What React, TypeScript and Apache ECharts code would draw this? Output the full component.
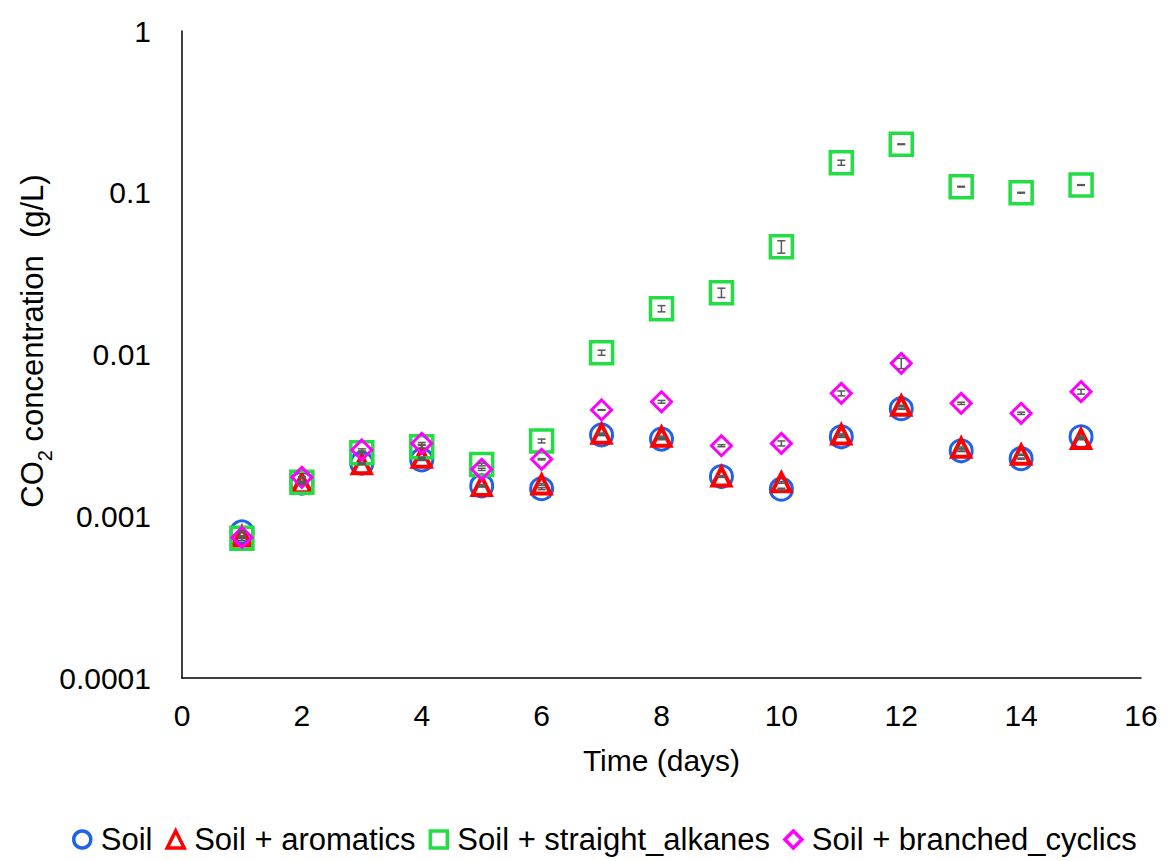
import React, { useEffect, useRef } from "react";
import * as echarts from "echarts";

const days = [1, 2, 3, 4, 5, 6, 7, 8, 9, 10, 11, 12, 13, 14, 15];
const soil = [0.0008, 0.0016, 0.00213, 0.00223, 0.00154, 0.00148, 0.00318, 0.003, 0.00176, 0.00147, 0.0031, 0.00462, 0.00254, 0.00227, 0.0031];
const soilErr = [0.00001, 0.00002, 0.00002, 0.00002, 0.00002, 0.00002, 0.00003, 0.00003, 0.00002, 0.00002, 0.00003, 0.00004, 0.00003, 0.00002, 0.00003];
const aromatics = [0.00075, 0.0016, 0.0021, 0.0023, 0.00154, 0.00157, 0.00324, 0.0031, 0.00176, 0.00162, 0.0032, 0.00482, 0.00265, 0.0024, 0.003];
const aromaticsErr = [0.00001, 0.00002, 0.00002, 0.00002, 0.00002, 0.00002, 0.00003, 0.00003, 0.00002, 0.00002, 0.00003, 0.00004, 0.00003, 0.00002, 0.00003];
const straight = [0.00073, 0.00162, 0.00247, 0.00269, 0.00209, 0.00292, 0.01026, 0.0192, 0.0241, 0.0464, 0.1534, 0.1995, 0.109, 0.1, 0.1116];
const straightErr = [0.00002, 0.00003, 0.00005, 0.00005, 0.00004, 0.00008, 0.00037, 0.00085, 0.0016, 0.0041, 0.0055, 0.001, 0.0006, 0.0006, 0.0006];
const branched = [0.00074, 0.00174, 0.00257, 0.00282, 0.00195, 0.00225, 0.00454, 0.0051, 0.00273, 0.00282, 0.00575, 0.00882, 0.00499, 0.00433, 0.00589];
const branchedErr = [0.00001, 0.00002, 0.00004, 0.00004, 0.00003, 0.00002, 0.00002, 0.0001, 0.00004, 0.0001, 0.0002, 0.00065, 0.00008, 0.00007, 0.0002];
const yTickLabels: Record<string, string> = { "1": "1", "0.1": "0.1", "0.01": "0.01", "0.001": "0.001", "0.0001": "0.0001" };
const seriesNames = ["Soil", "Soil + aromatics", "Soil + straight_alkanes", "Soil + branched_cyclics"];

const FONT = "Liberation Sans, Arial, sans-serif";

export default function App() {
  const ref = useRef<HTMLDivElement>(null);
  useEffect(() => {
    if (!ref.current) return;
    const chart = echarts.init(ref.current, null, { renderer: "svg" });

    const errSeries = (name: string, vals: number[], errs: number[]) => ({
      type: "custom",
      name: name + "_err",
      silent: true,
      z: 5,
      data: days.map((d, i) => [d, vals[i], vals[i] - errs[i], vals[i] + errs[i]]),
      renderItem: (params: any, api: any) => {
        const x = api.value(0);
        const lo = api.coord([x, api.value(2)]);
        const hi = api.coord([x, api.value(3)]);
        const hw = 4;
        const style = { stroke: "#595959", lineWidth: 1.5 };
        return {
          type: "group",
          children: [
            { type: "line", shape: { x1: lo[0], y1: lo[1], x2: hi[0], y2: hi[1] }, style },
            { type: "line", shape: { x1: lo[0] - hw, y1: lo[1], x2: lo[0] + hw, y2: lo[1] }, style },
            { type: "line", shape: { x1: hi[0] - hw, y1: hi[1], x2: hi[0] + hw, y2: hi[1] }, style },
          ],
        };
      },
    });

    const scatter = (name: string, vals: number[], symbol: string, size: number, color: string, bw: number) => ({
      type: "scatter",
      name,
      symbol,
      symbolSize: size,
      z: 3,
      data: days.map((d, i) => [d, vals[i]]),
      itemStyle: { color: "rgba(255,255,255,0)", borderColor: color, borderWidth: bw, opacity: 1 },
    });

    chart.setOption({
      animation: false,
      textStyle: { fontFamily: FONT },
      grid: { left: 182, right: 27, top: 31, bottom: 183, containLabel: false },
      graphic: [
        {
          type: "text",
          x: 30,
          y: 341,
          rotation: Math.PI / 2,
          style: {
            text: "{a|CO}{s|2}{a| concentration  (g/L)}",
            align: "center",
            verticalAlign: "middle",
            rich: {
              a: { fontSize: 31, fill: "#000", fontFamily: FONT, lineHeight: 36, verticalAlign: "bottom" },
              s: { fontSize: 20, fill: "#000", fontFamily: FONT, lineHeight: 36, verticalAlign: "bottom", padding: [0, 0, -7, 0] },
            },
          },
        },
      ],
      xAxis: {
        type: "value",
        min: 0,
        max: 16,
        interval: 2,
        name: "Time (days)",
        nameLocation: "middle",
        nameGap: 67,
        nameTextStyle: { fontSize: 30, color: "#000", fontFamily: FONT },
        axisLine: { lineStyle: { color: "#000", width: 1.5 } },
        axisTick: { show: false },
        splitLine: { show: false },
        axisLabel: { fontSize: 30, color: "#000", margin: 22, fontFamily: FONT },
      },
      yAxis: {
        type: "log",
        logBase: 10,
        min: 0.0001,
        max: 1,
        axisLine: { show: true, lineStyle: { color: "#000", width: 1.5 } },
        axisTick: { show: false },
        splitLine: { show: false },
        minorTick: { show: false },
        axisLabel: {
          fontSize: 30,
          color: "#000",
          margin: 31,
          fontFamily: FONT,
          formatter: (v: number) => {
            const key = String(Number(v.toPrecision(6)));
            return yTickLabels[key] ?? "";
          },
        },
      },
      legend: {
        top: 819,
        left: 67,
        itemWidth: 17,
        itemHeight: 17,
        itemGap: 13,
        textStyle: { fontSize: 31, color: "#000", fontFamily: FONT, padding: [0, 0, 0, 5] },
        data: seriesNames.map((n) => ({ name: n, itemStyle: { borderWidth: 3.5, opacity: 1 } })),
      },
      series: [
        scatter(seriesNames[0], soil, "circle", 22, "#1F62E8", 3),
        scatter(seriesNames[1], aromatics, "triangle", 18, "#FF0000", 4),
        scatter(seriesNames[2], straight, "rect", 22, "#22DD44", 3.5),
        scatter(seriesNames[3], branched, "diamond", 20, "#FF00FF", 3),
        errSeries(seriesNames[0], soil, soilErr),
        errSeries(seriesNames[1], aromatics, aromaticsErr),
        errSeries(seriesNames[2], straight, straightErr),
        errSeries(seriesNames[3], branched, branchedErr),
      ],
    });
    return () => chart.dispose();
  }, []);
  return (
    <div
      ref={ref}
      style={{ position: "fixed", left: 0, top: 0, width: 1168, height: 861, background: "#fff" }}
    />
  );
}
